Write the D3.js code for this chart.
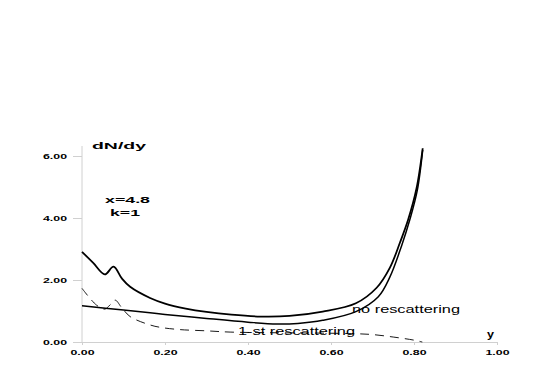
<!DOCTYPE html>
<html>
<head>
<meta charset="utf-8">
<script src="https://cdn.jsdelivr.net/npm/d3@7"></script>
<style>
  body { margin: 0; background: #fff; }
  text { font-family: "Liberation Sans", Arial, sans-serif; }
</style>
</head>
<body>
<div class="chart"></div>
<script>
// values
var xTicks = [0, 0.2, 0.4, 0.6, 0.8, 1.0];
var yTicks = [0, 2, 4, 6];

var totalX = [0, 0.027, 0.055, 0.076, 0.096, 0.116, 0.164, 0.2, 0.25, 0.3, 0.36, 0.43, 0.5, 0.58, 0.66, 0.71, 0.742, 0.766, 0.786, 0.806, 0.821];
var totalY = [2.91, 2.55, 2.18, 2.43, 2.05, 1.78, 1.42, 1.24, 1.08, 0.97, 0.88, 0.82, 0.84, 0.98, 1.25, 1.75, 2.40, 3.20, 3.95, 4.95, 6.25];

var noRescX = [0, 0.1, 0.164, 0.2, 0.3, 0.4, 0.47, 0.52, 0.58, 0.66, 0.714, 0.742, 0.77, 0.79, 0.808, 0.821];
var noRescY = [1.17, 1.03, 0.94, 0.89, 0.76, 0.64, 0.58, 0.60, 0.70, 0.98, 1.46, 2.1, 3.1, 3.95, 4.9, 6.2];

var firstX = [0, 0.035, 0.055, 0.067, 0.08, 0.095, 0.116, 0.164, 0.19, 0.236, 0.3, 0.357, 0.45, 0.55, 0.65, 0.7, 0.75, 0.8, 0.82];
var firstY = [1.73, 1.19, 1.06, 1.19, 1.35, 1.12, 0.82, 0.55, 0.47, 0.40, 0.36, 0.32, 0.30, 0.29, 0.27, 0.24, 0.16, 0.06, 0.0];

var width = 545, height = 382;

var svg = d3.select('.chart').append('svg')
    .attr('width', width)
    .attr('height', height);

var x = d3.scaleLinear().domain([0, 1]).range([82, 497]);
var y = d3.scaleLinear().domain([0, 6]).range([342, 156]);

// axes
var xAxis = svg.append('g')
    .attr('transform', 'translate(0,' + y(0) + ')')
    .call(d3.axisBottom(x).tickValues(xTicks).tickSize(3).tickPadding(5)
        .tickFormat(d3.format('.2f')));

var yAxis = svg.append('g')
    .attr('transform', 'translate(' + x(0) + ',0)')
    .call(d3.axisLeft(y).tickValues(yTicks).tickSize(9).tickPadding(6)
        .tickFormat(d3.format('.2f')));

yAxis.select('.domain').attr('d', 'M0,' + y(0) + 'V146');

svg.selectAll('.domain, .tick line')
    .attr('stroke', '#d0d0d0')
    .attr('stroke-width', 1);

svg.selectAll('.tick text')
    .attr('fill', '#000')
    .attr('textLength', 24)
    .attr('lengthAdjust', 'spacingAndGlyphs')
    .style('font-size', '7px')
    .style('font-weight', 'bold');

function pairs(xs, ys) {
    return xs.map(function(v, i) { return [v, ys[i]]; });
}

var line = d3.line()
    .x(function(d) { return x(d[0]); })
    .y(function(d) { return y(d[1]); })
    .curve(d3.curveCatmullRom.alpha(0.5));

svg.append('path')
    .datum(pairs(totalX, totalY))
    .attr('d', line)
    .attr('fill', 'none')
    .attr('stroke', '#000')
    .attr('stroke-width', 1.8);

svg.append('path')
    .datum(pairs(noRescX, noRescY))
    .attr('d', line)
    .attr('fill', 'none')
    .attr('stroke', '#000')
    .attr('stroke-width', 1.5);

svg.append('path')
    .datum(pairs(firstX, firstY))
    .attr('d', line)
    .attr('fill', 'none')
    .attr('stroke', '#000')
    .attr('stroke-width', 0.9)
    .attr('stroke-dasharray', '9,6');

// labels, stretched like the original's wide font
function label(txt, px, py, size, bold, len) {
    svg.append('text')
        .attr('x', px)
        .attr('y', py)
        .attr('textLength', len)
        .attr('lengthAdjust', 'spacingAndGlyphs')
        .text(txt)
        .style('font-size', size + 'px')
        .style('font-weight', bold ? 'bold' : 'normal');
}

label('dN/dy', 92, 149, 9, true, 54);
label('x=4.8', 105, 203, 8.5, true, 45);
label('k=1', 110, 216, 8.5, true, 30);
label('y', 487, 338, 11, true, 7);
label('no rescattering', 352, 313, 10, false, 108);
label('1-st rescattering', 238, 335, 10, false, 117);
</script>
</body>
</html>
